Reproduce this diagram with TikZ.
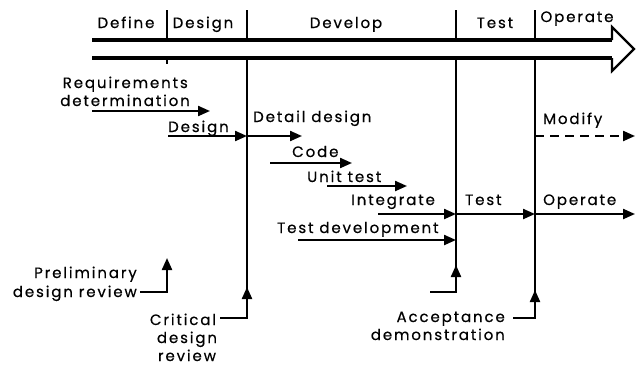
\documentclass[tikz,border=0pt]{standalone}
\usepackage{fontspec}
\setmainfont{Poppins}[LetterSpace=12.5, FakeBold=0.5]
\usetikzlibrary{arrows.meta,calc}
\begin{document}
\begin{tikzpicture}[x=1pt,y=-1pt,
  lbl/.style={inner sep=0pt, font=\fontsize{15}{17}\selectfont},
  flow/.style={line width=2.2pt, -{Triangle[length=12pt,width=10pt]}},
  rule/.style={line width=2pt},
  shaft/.style={line width=3.2pt}]
\useasboundingbox (0,0) rectangle (636,370);
% phase labels
\node[lbl,anchor=base] (tDefine) at (126,28) {Define};
\node[lbl,anchor=base] (tDesign) at (203,28) {Design};
\node[lbl,anchor=base] (tDevelop) at (346,28) {Develop};
\node[lbl,anchor=base] (tTest) at (495,28) {Test};
\node[lbl,anchor=base] (tOperate) at (577,22) {Operate};
% main double arrow
\coordinate (sL1) at (92,40);
\coordinate (sR1) at (612,40);
\coordinate (sL2) at (92,58);
\coordinate (sR2) at (612,58);
\coordinate (hTop) at (612,27);
\coordinate (hTip) at (634,49);
\coordinate (hBot) at (612,71);
\draw[shaft] (sL1) -- (sR1);
\draw[shaft] (sL2) -- (sR2);
\draw[line width=2.2pt, line join=miter] (sR1) -- (hTop) -- (hTip) -- (hBot) -- (sR2);
% phase boundaries
\coordinate (b1t) at (167,10); \coordinate (b1a) at (167,40);
\coordinate (b1b) at (167,58); \coordinate (b1e) at (167,64);
\coordinate (b2t) at (247,10); \coordinate (b2a) at (247,40);
\coordinate (b2b) at (247,58); \coordinate (b2e) at (247,318);
\coordinate (b3t) at (456,10); \coordinate (b3a) at (456,40);
\coordinate (b3b) at (456,58); \coordinate (b3e) at (456,292);
\coordinate (b4t) at (535,10); \coordinate (b4a) at (535,40);
\coordinate (b4b) at (535,58); \coordinate (b4e) at (535,318);
\draw[rule] (b1t) -- (b1a); \draw[rule] (b1b) -- (b1e);
\draw[rule] (b2t) -- (b2a); \draw[rule] (b2b) -- (b2e);
\draw[rule] (b3t) -- (b3a); \draw[rule] (b3b) -- (b3e);
\draw[rule] (b4t) -- (b4a); \draw[rule] (b4b) -- (b4e);
% activities
\node[lbl,anchor=base east] (req1) at (188,88) {Requirements};
\node[lbl,anchor=base east] (req2) at (190,106) {determination};
\coordinate (reqS) at (92,111); \coordinate (reqE) at (210,111);
\draw[flow] (reqS) -- (reqE);

\node[lbl,anchor=base west] (des) at (168,132) {Design};
\coordinate (desS) at (168,136); \coordinate (desE) at (247,136);
\draw[flow] (desS) -- (desE);

\node[lbl,anchor=base west] (det) at (253,122) {Detail design};
\coordinate (detE) at (302,136);
\draw[flow] (desE) -- (detE);

\node[lbl,anchor=base west] (code) at (292,157) {Code};
\coordinate (codeS) at (270,163); \coordinate (codeE) at (352,163);
\draw[flow] (codeS) -- (codeE);

\node[lbl,anchor=base west] (unit) at (307,182) {Unit test};
\coordinate (unitS) at (327,186); \coordinate (unitE) at (407,186);
\draw[flow] (unitS) -- (unitE);

\node[lbl,anchor=base west] (integ) at (351,205) {Integrate};
\coordinate (intS) at (378,214); \coordinate (intE) at (456,214);
\draw[flow] (intS) -- (intE);

\node[lbl,anchor=base west] (tdev) at (277,233) {Test development};
\coordinate (tdS) at (298,240); \coordinate (tdE) at (456,240);
\draw[flow] (tdS) -- (tdE);

\node[lbl,anchor=base west] (test) at (465,205) {Test};
\coordinate (testE) at (535,214);
\draw[flow] (intE) -- (testE);

\node[lbl,anchor=base west] (oper) at (543,205) {Operate};
\coordinate (operE) at (635,214);
\draw[flow] (testE) -- (operE);

\node[lbl,anchor=base west] (mod) at (543,124) {Modify};
\coordinate (modS) at (535,136); \coordinate (modE) at (635,136);
\draw[flow, dash pattern=on 9pt off 6pt] (modS) -- (modE);

% reviews
\node[lbl,anchor=base east] (pdr1) at (137,278) {Preliminary};
\node[lbl,anchor=base east] (pdr2) at (137,297) {design review};
\coordinate (pdrTip) at (167,258);
\draw[flow] ($(pdr2.base east)+(3,-5)$) -| (pdrTip);

\node[lbl,anchor=base] (cdr1) at (183,325) {Critical};
\node[lbl,anchor=base] (cdr2) at (187,343) {design};
\node[lbl,anchor=base] (cdr3) at (187,361) {review};
\coordinate (cdrTip) at (247,287);
\draw[flow] ($(cdr1.base east)+(4,-7)$) -| (cdrTip);

\coordinate (itS) at (430,292); \coordinate (itTip) at (456,265);
\draw[flow] (itS) -| (itTip);

\node[lbl,anchor=base east] (acc1) at (505,322) {Acceptance};
\node[lbl,anchor=base east] (acc2) at (505,340) {demonstration};
\coordinate (accTip) at (535,290);
\draw[flow] ($(acc1.base east)+(8,-4)$) -| (accTip);
\end{tikzpicture}
\end{document}
